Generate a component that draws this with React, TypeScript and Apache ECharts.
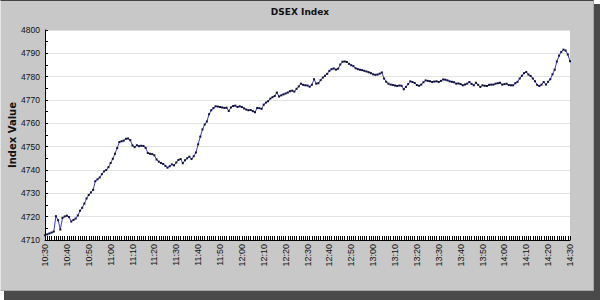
import React, { useEffect, useRef } from "react";
import * as echarts from "echarts";

const title = "DSEX Index";
const yAxisName = "Index Value";

// minutes from 10:30 to 14:30
const startMinutes = 10 * 60 + 30;
const times: string[] = [];
for (let i = 0; i <= 240; i++) {
  const t = startMinutes + i;
  const h = Math.floor(t / 60);
  const m = t % 60;
  times.push(`${h}:${m < 10 ? "0" + m : m}`);
}

const values: number[] = [
  4712.0, 4712.4, 4712.8, 4713.2, 4713.6, 4720.2, 4718.5, 4714.5, 4719.5, 4720.1,
  4720.4, 4719.8, 4717.9, 4718.6, 4719.2, 4720.5, 4722.5, 4723.8, 4725.6, 4727.8,
  4729.3, 4730.4, 4731.5, 4735.2, 4736.0, 4736.8, 4738.2, 4739.4, 4740.0, 4741.2,
  4743.0, 4744.8, 4747.0, 4749.4, 4752.0, 4752.3, 4752.6, 4753.4, 4753.5, 4752.8,
  4750.5, 4749.8, 4750.6, 4750.2, 4750.4, 4750.3, 4749.5, 4747.3, 4747.0, 4746.8,
  4746.3, 4744.5, 4743.6, 4743.0, 4742.6, 4741.8, 4741.0, 4741.6, 4742.4, 4742.0,
  4743.2, 4744.3, 4744.7, 4742.9, 4744.2, 4745.0, 4745.7, 4744.7, 4745.9, 4747.5,
  4751.0, 4754.3, 4757.4, 4759.5, 4760.8, 4763.9, 4765.6, 4766.5, 4767.3, 4767.2,
  4767.0, 4766.8, 4766.6, 4766.7, 4765.3, 4766.8, 4767.4, 4767.6, 4767.0, 4767.3,
  4767.0, 4766.4, 4765.9, 4765.6, 4765.7, 4765.2, 4764.8, 4766.6, 4766.5, 4766.2,
  4768.0, 4768.9, 4769.5, 4770.6, 4771.2, 4771.7, 4773.2, 4771.5, 4772.0, 4772.4,
  4772.8, 4773.2, 4773.8, 4774.0, 4773.6, 4774.8, 4775.8, 4777.0, 4776.5, 4776.3,
  4776.2, 4775.7, 4776.5, 4778.9, 4777.0, 4777.2, 4778.5, 4779.6, 4780.4, 4781.2,
  4782.5, 4783.2, 4783.5, 4783.0, 4783.4, 4785.2, 4786.4, 4786.5, 4786.3, 4785.5,
  4784.9, 4784.5, 4783.6, 4783.2, 4783.0, 4782.8, 4782.5, 4782.2, 4781.9, 4781.5,
  4781.0, 4780.8, 4780.9, 4781.3, 4781.8, 4779.2, 4777.8, 4777.0, 4776.6, 4776.4,
  4776.2, 4776.0, 4776.2, 4776.1, 4774.6, 4775.6, 4776.8, 4778.0, 4777.7, 4777.3,
  4776.4, 4776.1, 4776.6, 4777.6, 4778.4, 4778.2, 4778.0, 4777.7, 4777.9, 4778.0,
  4777.7, 4778.2, 4778.8, 4778.7, 4778.4, 4778.0, 4777.8, 4777.6, 4777.0, 4777.1,
  4776.8, 4776.3, 4776.6, 4777.0, 4777.7, 4776.9, 4776.3, 4777.4, 4776.5, 4775.6,
  4776.3, 4776.1, 4776.0, 4776.5, 4776.6, 4776.6, 4777.0, 4777.2, 4777.4, 4776.6,
  4776.8, 4777.0, 4776.4, 4776.3, 4776.3, 4777.2, 4777.8, 4779.2, 4780.4, 4781.5,
  4782.0, 4780.9, 4780.3, 4779.2, 4778.0, 4776.5, 4776.0, 4776.6, 4777.7, 4776.6,
  4777.8, 4778.9, 4781.0, 4783.0, 4786.5, 4789.0, 4790.6, 4791.6, 4791.2, 4789.5,
  4786.6,
];

const yMin = 4710;
const yMax = 4800;
const yStep = 10;

export default function App() {
  const ref = useRef<HTMLDivElement>(null);
  useEffect(() => {
    if (!ref.current) return;
    const chart = echarts.init(ref.current, null, { renderer: "svg" });
    chart.setOption({
      animation: false,
      backgroundColor: "transparent",
      title: {
        text: title,
        left: "center",
        top: 2,
        textStyle: {
          fontFamily: "DejaVu Sans",
          fontWeight: "bold",
          fontSize: 9,
          color: "#111",
        },
      },
      grid: {
        left: 45,
        right: 30,
        top: 30,
        bottom: 60,
        containLabel: false,
        outerBoundsMode: "none",
        backgroundColor: "#fff",
        show: true,
        borderWidth: 0,
      },
      xAxis: {
        type: "category",
        data: times,
        boundaryGap: false,
        axisLine: { show: true, lineStyle: { color: "#000", width: 1 } },
        axisTick: { show: true, inside: true, length: 4, interval: 0, lineStyle: { color: "#000" } },
        axisLabel: {
          interval: 9,
          rotate: 90,
          fontFamily: "Liberation Sans",
          fontSize: 9,
          color: "#111",
          margin: 4,
        },
        splitLine: { show: false },
      },
      yAxis: {
        type: "value",
        min: yMin,
        max: yMax,
        interval: yStep,
        name: yAxisName,
        nameLocation: "middle",
        nameGap: 28,
        nameMoveOverlap: false,
        nameTextStyle: {
          fontFamily: "DejaVu Sans",
          fontWeight: "bold",
          fontSize: 10,
          color: "#111",
        },
        axisLine: { show: true, lineStyle: { color: "#000", width: 1 } },
        axisTick: { show: true, inside: true, length: 3, lineStyle: { color: "#000" } },
        minorTick: { show: true, splitNumber: 2, length: 3, lineStyle: { color: "#000" } },
        axisLabel: {
          fontFamily: "Liberation Sans",
          fontSize: 8.5,
          color: "#111",
          margin: 5,
          formatter: (v: number) => String(v),
        },
        splitLine: { show: true, lineStyle: { color: "#e2e2e2", width: 1 } },
      },
      series: [
        {
          type: "line",
          data: values,
          symbol: "rect",
          symbolSize: 2,
          showSymbol: true,
          showAllSymbol: true,
          itemStyle: { color: "#10103a" },
          lineStyle: { color: "#3a3ad0", width: 1 },
        },
      ],
    });
    return () => chart.dispose();
  }, []);

  return (
    <div style={{ position: "fixed", left: 0, top: 0, width: 600, height: 300, background: "#ffffff", overflow: "hidden" }}>
      <div style={{ position: "absolute", left: 4, top: 4, width: 596, height: 296, background: "#4a4a4a" }} />
      <div
        style={{
          position: "absolute",
          left: 0,
          top: 0,
          width: 594,
          height: 291,
          boxSizing: "border-box",
          background: "#c8c8c8",
          borderTop: "1px solid #444",
          borderLeft: "1px solid #e6e6e6",
          borderRight: "1px solid #a8a8a8",
          borderBottom: "1px solid #a8a8a8",
        }}
      />
      <div ref={ref} style={{ position: "absolute", left: 0, top: 0, width: 600, height: 300 }} />
    </div>
  );
}
